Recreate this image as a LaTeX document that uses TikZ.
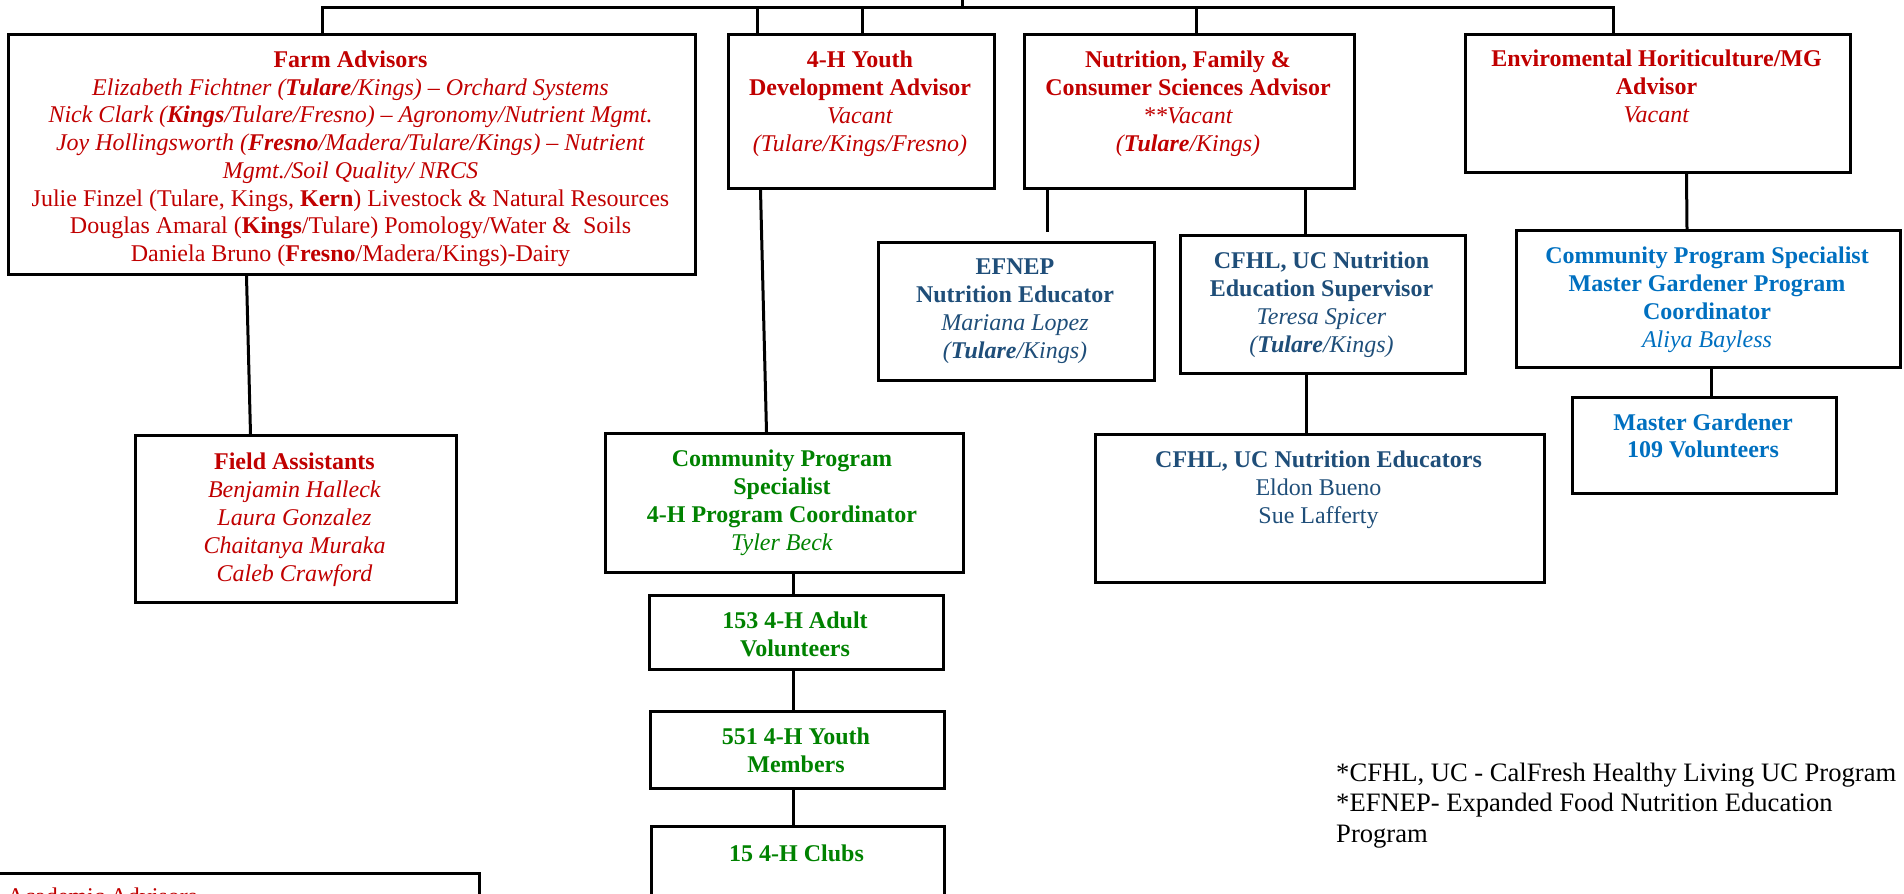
\documentclass[tikz,border=0pt]{standalone}
\usepackage{fontspec}
\setmainfont{Liberation Serif}
\definecolor{ucred}{HTML}{C00000}
\definecolor{ucgreen}{HTML}{008200}
\definecolor{ucnavy}{HTML}{1F4E79}
\definecolor{ucblue}{HTML}{0070C0}
\begin{document}
\begin{tikzpicture}[x=1pt,y=-1pt,
  box/.style={draw=black, line width=3pt, rectangle, inner sep=0pt, anchor=north west},
  txt/.style={anchor=north, inner sep=0pt, yshift=-3pt, align=center, font=\fontsize{24}{28.1}\selectfont, execute at begin node=\strut},
  conn/.style={draw=black, line width=3pt}]
\useasboundingbox (0,0) rectangle (1904,894);
\clip (0,0) rectangle (1904,894);

% ---------- boxes ----------
\node[box, minimum width=687pt, minimum height=240pt] (farm) at (7,33) {};
\node[box, minimum width=321pt, minimum height=167pt] (field) at (134,434) {};
\node[box, minimum width=266pt, minimum height=154pt] (h4) at (727,33) {};
\node[box, minimum width=330pt, minimum height=154pt] (nut) at (1023,33) {};
\node[box, minimum width=385pt, minimum height=138pt] (env) at (1464,33) {};
\node[box, minimum width=276pt, minimum height=138pt] (efnep) at (877,241) {};
\node[box, minimum width=285pt, minimum height=138pt] (cfhls) at (1179,234) {};
\node[box, minimum width=449pt, minimum height=148pt] (cfhle) at (1094,433) {};
\node[box, minimum width=384pt, minimum height=137pt] (cpsmg) at (1515,229) {};
\node[box, minimum width=264pt, minimum height=96pt] (mg) at (1571,396) {};
\node[box, minimum width=358pt, minimum height=139pt] (cps4h) at (604,432) {};
\node[box, minimum width=294pt, minimum height=74pt] (v153) at (648,594) {};
\node[box, minimum width=294pt, minimum height=77pt] (y551) at (649,710) {};
\node[box, minimum width=293pt, minimum height=100pt] (clubs) at (650,825) {};
\node[box, minimum width=490pt, minimum height=100pt] (acad) at (-12,872) {};

% ---------- texts ----------
\node[txt, text=ucred, font=\fontsize{24}{27.7}\selectfont] (farm-t) at (350.5,47.7) {\textbf{Farm Advisors}\\
 \textit{Elizabeth Fichtner (\textbf{Tulare}/Kings) – Orchard Systems}\\
 \textit{Nick Clark (\textbf{Kings}/Tulare/Fresno) – Agronomy/Nutrient Mgmt.}\\
 \textit{Joy Hollingsworth (\textbf{Fresno}/Madera/Tulare/Kings) – Nutrient}\\
 \textit{Mgmt./Soil Quality/ NRCS}\\
 Julie Finzel (Tulare, Kings, \textbf{Kern}) Livestock \& Natural Resources\\
 Douglas Amaral (\textbf{Kings}/Tulare) Pomology/Water \&\ \ Soils\\
 Daniela Bruno (\textbf{Fresno}/Madera/Kings)-Dairy};

\node[txt, text=ucred] (field-t) at (294.5,449.7) {\textbf{Field Assistants}\\
 \textit{Benjamin Halleck}\\ \textit{Laura Gonzalez}\\ \textit{Chaitanya Muraka}\\ \textit{Caleb Crawford}};

\node[txt, text=ucred] (h4-t) at (860,47.2) {\textbf{4-H Youth}\\ \textbf{Development Advisor}\\
 \textit{Vacant}\\ \textit{(Tulare/Kings/Fresno)}};

\node[txt, text=ucred] (nut-t) at (1188,47.2) {\textbf{Nutrition, Family \&}\\ \textbf{Consumer Sciences Advisor}\\
 \textit{**Vacant}\\ \textit{(\textbf{Tulare}/Kings)}};

\node[txt, text=ucred] (env-t) at (1656.5,46.7) {\textbf{Enviromental Horiticulture/MG}\\ \textbf{Advisor}\\
 \textit{Vacant}};

\node[txt, text=ucnavy] (efnep-t) at (1015,255.2) {\textbf{EFNEP}\\ \textbf{Nutrition Educator}\\
 \textit{Mariana Lopez}\\ \textit{(\textbf{Tulare}/Kings)}};

\node[txt, text=ucnavy] (cfhls-t) at (1321.5,248.7) {\textbf{CFHL, UC Nutrition}\\ \textbf{Education Supervisor}\\
 \textit{Teresa Spicer}\\ \textit{(\textbf{Tulare}/Kings)}};

\node[txt, text=ucnavy] (cfhle-t) at (1318.5,447.7) {\textbf{CFHL, UC Nutrition Educators}\\
 Eldon Bueno\\ Sue Lafferty};

\node[txt, text=ucblue] (cpsmg-t) at (1707,243.7) {\textbf{Community Program Specialist}\\
 \textbf{Master Gardener Program}\\ \textbf{Coordinator}\\ \textit{Aliya Bayless}};

\node[txt, text=ucblue, font=\fontsize{24}{26.8}\selectfont] (mg-t) at (1703,410.7) {\textbf{Master Gardener}\\ \textbf{109 Volunteers}};

\node[txt, text=ucgreen] (cps4h-t) at (782,446.7) {\textbf{Community Program}\\ \textbf{Specialist}\\
 \textbf{4-H Program Coordinator}\\ \textit{Tyler Beck}};

\node[txt, text=ucgreen] (v153-t) at (795,608.7) {\textbf{153 4-H Adult}\\ \textbf{Volunteers}};
\node[txt, text=ucgreen] (y551-t) at (796,724.7) {\textbf{551 4-H Youth}\\ \textbf{Members}};
\node[txt, text=ucgreen] (clubs-t) at (796.5,838.7) {\textbf{15 4-H Clubs}};

\node[anchor=base west, inner sep=0pt, text=ucred, font=\fontsize{24}{27.8}\selectfont] (acad-t) at (7,904) {Academic Advisors};

\node[anchor=north west, inner sep=0pt, align=left, font=\fontsize{26.6}{30.6}\selectfont, execute at begin node=\strut] (note) at (1336,762.6)
 {*CFHL, UC - CalFresh Healthy Living UC Program\\ *EFNEP- Expanded Food Nutrition Education\\ Program};

% ---------- connectors ----------
\coordinate (busL) at (322,7.5);
\coordinate (busR) at (1613,7.5);
\coordinate (busTop) at (962,0);
\coordinate (b2) at (757,7.5);
\coordinate (b3) at (862,7.5);
\coordinate (b4) at (1196,7.5);
\coordinate (efnepIn) at (1047,232);

\draw[conn] (busL |- farm.north) -- (busL) -- (busR) -- (busR |- env.north);
\draw[conn] (busTop) -- (busTop |- busL);
\draw[conn] (b2) -- (b2 |- h4.north);
\draw[conn] (b3) -- (b3 |- h4.north);
\draw[conn] (b4) -- (b4 |- nut.north);

\draw[conn] ([xshift=-105.5pt]farm.south) -- ([xshift=-45.5pt]field.north);
\draw[conn] ([xshift=-101pt]h4.south) -- ([xshift=-18pt]cps4h.north);
\draw[conn] (efnepIn |- nut.south) -- (efnepIn);
\draw[conn] ([xshift=116pt]nut.south) -- ([xshift=-17.5pt]cfhls.north);
\draw[conn] ([xshift=-16.5pt]cfhls.south) -- ([xshift=-13.5pt]cfhle.north);
\draw[conn] ([xshift=28.5pt]env.south) -- ([xshift=-21.5pt]cpsmg.north);
\draw[conn] ([xshift=3pt]cpsmg.south) -- ([xshift=7pt]mg.north);
\draw[conn] ([xshift=9pt]cps4h.south) -- ([xshift=-3pt]v153.north);
\draw[conn] ([xshift=-3pt]v153.south) -- ([xshift=-4pt]y551.north);
\draw[conn] ([xshift=-4pt]y551.south) -- ([xshift=-4.5pt]clubs.north);
\end{tikzpicture}
\end{document}
